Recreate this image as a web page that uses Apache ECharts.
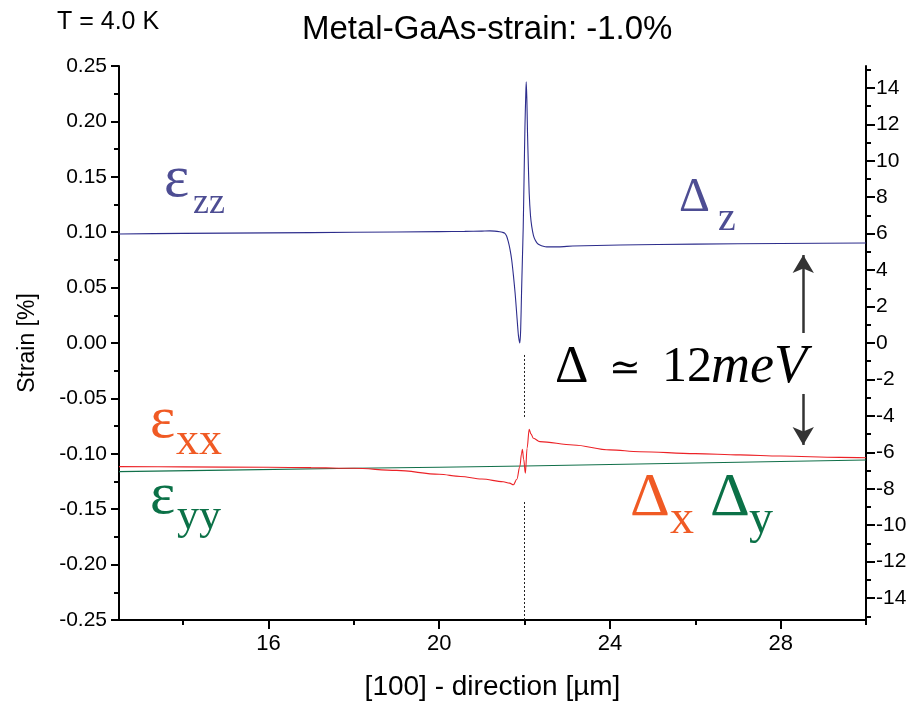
<!DOCTYPE html>
<html>
<head>
<meta charset="utf-8">
<script src="https://cdn.jsdelivr.net/npm/echarts@6/dist/echarts.min.js"></script>
<style>
  html, body { margin: 0; padding: 0; background: #ffffff; }
  #chart { width: 917px; height: 707px; }
</style>
</head>
<body>
<div id="chart"></div>
<script>
// Strain components along the [100] direction (position in µm, strain in %)
const zzX = [12.5, 14, 16, 18, 20, 20.6, 21.0, 21.19, 21.30, 21.42, 21.48, 21.54, 21.58, 21.62, 21.66, 21.70, 21.74, 21.78, 21.81, 21.84, 21.86, 21.89, 21.91, 21.93, 21.95, 21.97, 21.99, 22.01, 22.03, 22.04, 22.055, 22.07, 22.09, 22.11, 22.14, 22.17, 22.21, 22.25, 22.30, 22.36, 22.44, 22.52, 22.8, 23.13, 24.24, 26, 28, 30];
const zzY = [0.0984, 0.0989, 0.0994, 0.0999, 0.1005, 0.1007, 0.1010, 0.1012, 0.1010, 0.1004, 0.0999, 0.0990, 0.0965, 0.0914, 0.0845, 0.0749, 0.0610, 0.0449, 0.0300, 0.0147, 0.0060, 0.0000, 0.0120, 0.0450, 0.0750, 0.1050, 0.1500, 0.1950, 0.2250, 0.2358, 0.2200, 0.1900, 0.1600, 0.1350, 0.1150, 0.1050, 0.0970, 0.0930, 0.0900, 0.0884, 0.0873, 0.0868, 0.0868, 0.0875, 0.0884, 0.0892, 0.0898, 0.0902];

const xxX = [12.5, 14, 16, 17, 18, 19, 20, 20.5, 21, 21.5, 21.65, 21.74, 21.82, 21.89, 21.93, 21.95, 21.98, 22.02, 22.06, 22.11, 22.15, 22.21, 22.36, 23.14, 24, 24.7, 26, 27.05, 28, 29.39, 30];
const xxY = [-0.1116, -0.1118, -0.1122, -0.1125, -0.1131, -0.1150, -0.1185, -0.1205, -0.1228, -0.1252, -0.1265, -0.1280, -0.1230, -0.1116, -0.1000, -0.0959, -0.1050, -0.1176, -0.0950, -0.0779, -0.0820, -0.0860, -0.0890, -0.0920, -0.0965, -0.0981, -0.0998, -0.1010, -0.1020, -0.1032, -0.1035];

const yyX = [12.5, 15, 18, 20, 22, 24, 26, 28, 30];
const yyY = [-0.1161, -0.1147, -0.1131, -0.1121, -0.1110, -0.1097, -0.1083, -0.1070, -0.1056];

// Axis ticks
const xMajorTicks = [16, 20, 24, 28];
const xMinorTicks = [14, 18, 22, 26, 30];
const energyMajorTicks = [-14, -12, -10, -8, -6, -4, -2, 0, 2, 4, 6, 8, 10, 12, 14];
const energyMinorTicks = [-15, -13, -11, -9, -7, -5, -3, -1, 1, 3, 5, 7, 9, 11, 13, 15];

// Interface position guide (dotted) and splitting arrows (x, strain from, strain to)
const interfaceX = 22;
const guideSegments = [[-0.0108, -0.0677], [-0.1435, -0.25]];
const arrowX = 28.53;
const arrowUp = [0.009, 0.0794];
const arrowDown = [-0.046, -0.092];

const zip = (xs, ys) => xs.map((x, i) => [x, ys[i]]);

const SANS = '"Liberation Sans", Arial, sans-serif';
const SERIF = '"Liberation Serif", "Times New Roman", serif';
const BLUE = '#4d4d93';
const ORANGE = '#f05a24';
const GREEN = '#0b7147';

function txt(text, x, y, size, color, extra) {
  return {
    type: 'text', x: x, y: y, silent: true,
    style: Object.assign({
      text: text, fill: color, font: size + 'px ' + SERIF,
      align: 'left', verticalAlign: 'middle'
    }, extra || {})
  };
}

const chart = echarts.init(document.getElementById('chart'), null, { renderer: 'canvas' });

const axisLineStyle = { color: '#000', width: 2 };
const tickStyle = { color: '#000', width: 2 };

chart.setOption({
  animation: false,
  backgroundColor: '#ffffff',
  title: {
    text: 'Metal-GaAs-strain: -1.0%',
    left: 297, top: 8,
    textStyle: { fontFamily: SANS, fontSize: 33, fontWeight: 'normal', color: '#000' }
  },
  grid: { left: 119, right: 51, top: 66, bottom: 87 },
  xAxis: [
    {
      type: 'value', min: 12.5, max: 30,
      name: '[100] - direction [\u00b5m]', nameLocation: 'middle', nameGap: 53,
      nameTextStyle: { fontFamily: SANS, fontSize: 28, color: '#000' },
      axisLine: { show: true, onZero: false, lineStyle: axisLineStyle },
      axisTick: { show: true, length: 9, customValues: xMajorTicks, lineStyle: tickStyle },
      axisLabel: { show: true, customValues: xMajorTicks, margin: 13, fontFamily: SANS, fontSize: 22, color: '#000' },
      splitLine: { show: false }
    },
    {
      type: 'value', min: 12.5, max: 30, position: 'bottom',
      axisLine: { show: false, onZero: false },
      axisTick: { show: true, length: 5, customValues: xMinorTicks, lineStyle: tickStyle },
      axisLabel: { show: false },
      splitLine: { show: false }
    }
  ],
  yAxis: [
    {
      type: 'value', min: -0.25, max: 0.25, interval: 0.05,
      name: 'Strain [%]', nameLocation: 'middle', nameGap: 80,
      nameTextStyle: { fontFamily: SANS, fontSize: 23, color: '#000' },
      axisLine: { show: true, onZero: false, lineStyle: axisLineStyle },
      axisTick: { show: true, length: 8, lineStyle: tickStyle },
      minorTick: { show: true, splitNumber: 2, length: 5, lineStyle: tickStyle },
      axisLabel: {
        margin: 12, fontFamily: SANS, fontSize: 21, color: '#000',
        formatter: v => v.toFixed(2)
      },
      splitLine: { show: false }
    },
    {
      type: 'value', min: -15.2, max: 15.2, position: 'right',
      axisLine: { show: true, onZero: false, lineStyle: axisLineStyle },
      axisTick: { show: true, length: 9, customValues: energyMajorTicks, lineStyle: tickStyle },
      axisLabel: { show: true, customValues: energyMajorTicks, margin: 10, fontFamily: SANS, fontSize: 21, color: '#000' },
      splitLine: { show: false }
    },
    {
      type: 'value', min: -15.2, max: 15.2, position: 'right', offset: 0,
      axisLine: { show: false, onZero: false },
      axisTick: { show: true, length: 5, customValues: energyMinorTicks, lineStyle: tickStyle },
      axisLabel: { show: false },
      splitLine: { show: false }
    }
  ],
  series: [
    {
      name: 'εzz', type: 'line', data: zip(zzX, zzY), showSymbol: false, symbol: 'none',
      smooth: 0.25,
      lineStyle: { color: '#2d2d8c', width: 1.1 }, z: 3
    },
    {
      name: 'εxx', type: 'line', data: zip(xxX, xxY), showSymbol: false, symbol: 'none',
      smooth: 0.35, smoothMonotone: 'x',
      lineStyle: { color: '#ec2227', width: 1.1 }, z: 3
    },
    {
      name: 'εyy', type: 'line', data: zip(yyX, yyY), showSymbol: false, symbol: 'none',
      lineStyle: { color: '#11704a', width: 1.1 }, z: 2
    },
    {
      name: 'guides', type: 'line', data: [], silent: true,
      markLine: {
        silent: true, animation: false, label: { show: false },
        data: [
          ...guideSegments.map(s => [
            { coord: [interfaceX, s[0]], symbol: 'none', lineStyle: { color: '#222', width: 1, type: [2, 2] } },
            { coord: [interfaceX, s[1]], symbol: 'none' }
          ]),
          [
            { coord: [arrowX, arrowUp[0]], symbol: 'none', lineStyle: { color: '#333', width: 2.5, type: 'solid' } },
            { coord: [arrowX, arrowUp[1]], symbol: 'arrow', symbolSize: [16, 18] }
          ],
          [
            { coord: [arrowX, arrowDown[0]], symbol: 'none', lineStyle: { color: '#333', width: 2.5, type: 'solid' } },
            { coord: [arrowX, arrowDown[1]], symbol: 'arrow', symbolSize: [16, 18] }
          ]
        ]
      }
    }
  ],
  graphic: [
    { type: 'text', left: 57, top: 10, silent: true,
      style: { text: 'T = 4.0 K', font: '25px ' + SANS, fill: '#000' } },
    // strain component labels
    txt('\u03b5', 164, 180, 60, BLUE),
    txt('zz', 193, 204, 36, BLUE),
    txt('\u03b5', 150, 421, 60, ORANGE),
    txt('xx', 176, 442, 46, ORANGE),
    txt('\u03b5', 150, 497, 60, GREEN),
    txt('yy', 177, 517, 44, GREEN),
    // band-edge labels
    txt('\u0394', 679, 198, 48, BLUE),
    txt('z', 718, 219, 40, BLUE),
    txt('\u0394', 630, 499, 62, ORANGE),
    txt('x', 670, 520, 48, ORANGE),
    txt('\u0394', 710, 499, 62, GREEN),
    txt('y', 749, 520, 48, GREEN),
    // splitting annotation
    txt('\u0394', 555, 368, 52, '#000'),
    txt('\u2243', 609, 370, 38, '#000', { font: '38px "DejaVu Serif", serif' }),
    txt('12', 662, 368, 50, '#000'),
    txt('meV', 711, 368, 54, '#000', { font: 'italic 54px ' + SERIF })
  ]
});
</script>
</body>
</html>
